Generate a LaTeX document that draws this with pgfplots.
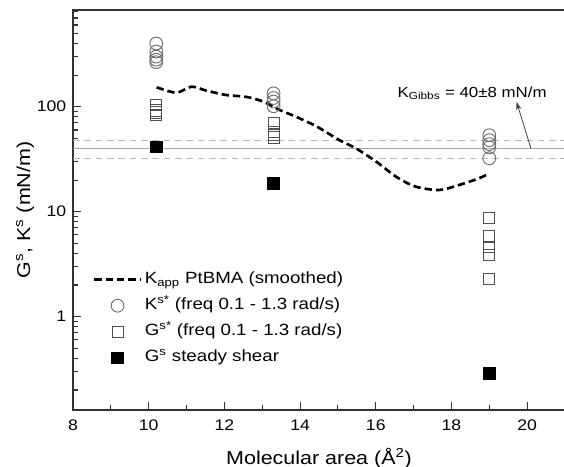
\documentclass[border=0pt]{standalone}
\usepackage{fontspec}
\setmainfont{Liberation Sans}[FakeStretch=1.15]
\usepackage{pgfplots}
\pgfplotsset{compat=1.18}
\usetikzlibrary{arrows.meta}
\definecolor{circgray}{HTML}{6E6E6E}
\definecolor{sqgray}{HTML}{505050}
\definecolor{refgray}{HTML}{A8A8A8}
\pgfplotsset{
  longline legend/.style={legend image code/.code={\draw[##1] (0pt,0pt) -- (35pt,0pt);}},
  midmark legend/.style={legend image code/.code={\draw[##1] plot coordinates {(17.5pt,0pt)};}},
}
\begin{document}
\begin{tikzpicture}
\useasboundingbox (-54.75pt,-42.75pt) rectangle (368.25pt,307.5pt);
\begin{axis}[
  at={(0,0)}, anchor=south west,
  scale only axis, width=369pt, height=300pt,
  xmin=8, xmax=21, ymode=log, ymin=0.129, ymax=834,
  xtick={8,10,...,20}, minor xtick={9,11,...,21},
  log ticks with fixed point,
  /pgf/number format/assume math mode=true,
  tick align=inside, xtick pos=left, ytick pos=left,
  major tick length=6pt, minor tick length=3.5pt,
  axis line style={black!80, line width=0.9pt},
  every tick/.style={black!80, line width=0.8pt},
  tick label style={font=\fontsize{11.5}{13}\selectfont},
  xticklabel style={yshift=-4pt},
  yticklabel style={xshift=-1.5pt},
  xlabel={Molecular area (Å\textsuperscript{2})},
  ylabel={G\textsuperscript{s}, K\textsuperscript{s} (mN/m)},
  label style={font=\fontsize{14}{16}\selectfont},
  xlabel style={at={(axis description cs:0.5,0)}, anchor=center, yshift=-36pt},
  ylabel style={at={(axis description cs:0,0.5)}, anchor=center, rotate=0, yshift=36pt},
  legend style={draw=none, fill=none, at={(axis description cs:0.040,0.353)}, anchor=north west,
     inner sep=0pt, font=\fontsize{12.2}{14}\selectfont,
     nodes={text height=9pt, text depth=3pt, inner sep=2pt}, row sep=3.5pt},
  legend cell align=left,
]
% Gibbs reference lines
\addplot[refgray, line width=0.8pt, forget plot] coordinates {(8,40) (21,40)};
\addplot[refgray!80, line width=0.8pt, dash pattern=on 5pt off 3.5pt, forget plot] coordinates {(8,48) (21,48)};
\addplot[refgray!80, line width=0.8pt, dash pattern=on 5pt off 3.5pt, forget plot] coordinates {(8,32) (21,32)};

% K_app smoothed
\addplot[black, line width=2pt, dash pattern=on 5.5pt off 3pt, smooth, longline legend] coordinates {
(10.21,153) (10.73,136) (11.13,155) (11.53,142) (12.06,129) (12.58,124)
(13.02,112) (13.46,93) (13.90,80) (14.43,65) (15.04,48) (15.48,40)
(16.01,30) (16.54,21.5) (17.06,17.3) (17.68,16.1) (18.21,18) (18.73,20.8) (19.00,23.2)
};
\addlegendentry{K\textsubscript{app} PtBMA (smoothed)}

% K^s* circles
\addplot[only marks, mark=o, mark size=4.8pt, mark options={draw=circgray, line width=0.7pt}, midmark legend] coordinates {
(10.2,265) (10.2,280) (10.2,300) (10.2,335) (10.2,400)
(13.3,101) (13.3,112) (13.3,121) (13.3,134)
(19.0,32.3) (19.0,41) (19.0,44) (19.0,48) (19.0,53.5)
};
\addlegendentry{K\textsuperscript{s*} (freq 0.1 - 1.3 rad/s)}

% G^s* open squares
\addplot[only marks, mark=square, mark size=4.2pt, mark options={draw=sqgray, line width=0.7pt}, midmark legend] coordinates {
(10.2,84) (10.2,88) (10.2,92) (10.2,104)
(13.3,51) (13.3,54) (13.3,57) (13.3,70)
(19.0,2.3) (19.0,3.9) (19.0,4.6) (19.0,5.8) (19.0,8.7)
};
\addlegendentry{G\textsuperscript{s*} (freq 0.1 - 1.3 rad/s)}

% G^s steady shear filled squares
\addplot[only marks, mark=square*, mark size=4.4pt, mark options={draw=black, fill=black}, midmark legend] coordinates {
(10.2,41.6) (13.3,18.6) (19.0,0.289)
};
\addlegendentry{G\textsuperscript{s} steady shear}

% annotation
\node[anchor=west, inner sep=0pt, font=\fontsize{11}{13}\selectfont] at (axis cs:16.57,135)
  {K\textsubscript{Gibbs} = 40±8 mN/m};
\draw[black!75, line width=0.6pt, -{Stealth[length=6pt, width=4pt]}] (axis cs:20.1,40) -- (axis cs:19.72,111);
\end{axis}
\end{tikzpicture}
\end{document}
